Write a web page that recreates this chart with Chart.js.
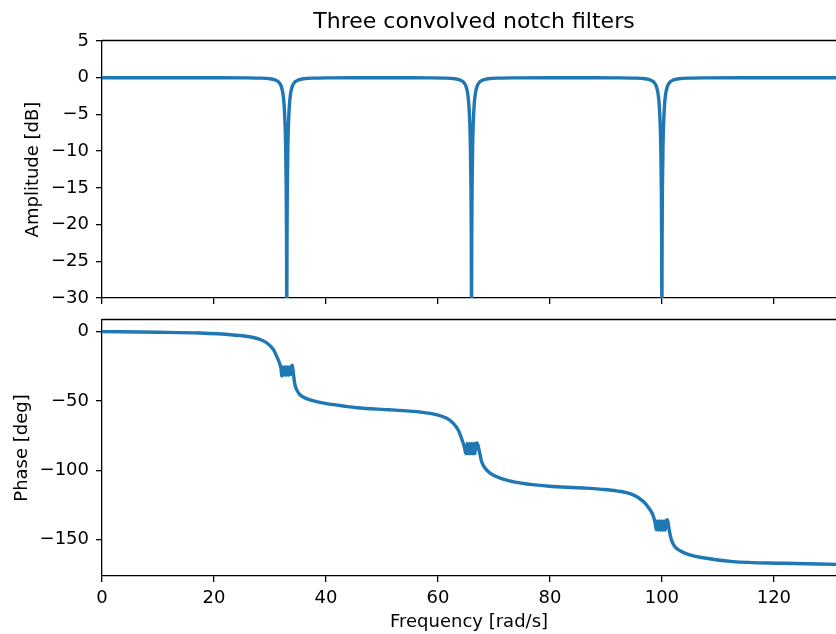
<!DOCTYPE html>
<html>
<head>
<meta charset="utf-8">
<script src="https://cdn.jsdelivr.net/npm/chart.js@4/dist/chart.umd.min.js"></script>
<style>
  html, body { margin: 0; padding: 0; background: #ffffff; }
  #wrap { position: relative; width: 836px; height: 634px; overflow: hidden; background: #fff; }
  canvas { position: absolute; left: 0; }
</style>
</head>
<body>
<div id="wrap">
  <canvas id="c1" width="836" height="320" style="top:0px"></canvas>
  <canvas id="c2" width="836" height="334" style="top:300px"></canvas>
</div>
<script>
// ---- data ----
const titleText = "Three convolved notch filters";
const xLabel = "Frequency [rad/s]";
const ampLabel = "Amplitude [dB]";
const phaseLabel = "Phase [deg]";

const xTicks = [0, 20, 40, 60, 80, 100, 120];
const ampTicks = [5, 0, -5, -10, -15, -20, -25, -30];
const phaseTicks = [0, -50, -100, -150];

const ampFreq = [0, 10, 20,
  25, 28, 30, 31, 31.5, 32, 32.3, 32.5, 32.7, 32.8, 32.9, 32.95, 32.98, 33, 33.02, 33.05, 33.1, 33.2, 33.3, 33.5, 33.7, 34, 34.5, 35, 36, 38, 41,
  45, 50, 55,
  58, 61, 63, 64, 64.5, 65, 65.3, 65.5, 65.7, 65.8, 65.9, 65.95, 65.98, 66, 66.02, 66.05, 66.1, 66.2, 66.3, 66.5, 66.7, 67, 67.5, 68, 69, 71, 74,
  80, 85,
  92, 95, 97, 98, 98.5, 99, 99.3, 99.5, 99.7, 99.8, 99.9, 99.95, 99.98, 100, 100.02, 100.05, 100.1, 100.2, 100.3, 100.5, 100.7, 101, 101.5, 102, 103, 105, 108,
  115, 125, 131.1];
const ampDb = [0, 0, -0.01,
  -0.02, -0.05, -0.14, -0.32, -0.55, -1.15, -2.09, -3.44, -6.39, -9.33, -14.95, -20.9, -28.8, -80, -28.8, -20.9, -14.95, -9.33, -6.39, -3.44, -2.09, -1.15, -0.55, -0.32, -0.14, -0.05, -0.02,
  -0.01, -0.01, -0.01,
  -0.02, -0.05, -0.14, -0.32, -0.55, -1.15, -2.09, -3.44, -6.39, -9.33, -14.95, -20.9, -28.8, -80, -28.8, -20.9, -14.95, -9.33, -6.39, -3.44, -2.09, -1.15, -0.55, -0.32, -0.14, -0.05, -0.02,
  -0.01, -0.01,
  -0.02, -0.05, -0.14, -0.32, -0.55, -1.15, -2.09, -3.44, -6.39, -9.33, -14.95, -20.9, -28.8, -80, -28.8, -20.9, -14.95, -9.33, -6.39, -3.44, -2.09, -1.15, -0.55, -0.32, -0.14, -0.05, -0.02,
  -0.01, 0, 0];

const phaseFreq = [0, 10, 17.5, 23.4, 26.4, 28.2, 29.4, 30.6, 31.2, 31.7,
  32.0, 32.1, 32.3, 32.5, 32.7, 32.9, 33.1, 33.3, 33.5, 33.7,
  33.9, 34.0, 34.17, 34.46, 34.76, 35.36, 36.55, 38.3, 40.1, 43.1,
  45.5, 51.4, 55.0, 56.8, 59.8, 61.5, 62.7, 63.6, 64.2, 64.7,
  65.0, 65.2, 65.4, 65.6, 65.8, 66.0, 66.2, 66.4, 66.6, 66.8,
  67.0, 67.4, 67.8, 68.4, 69.3, 71.1, 74.6, 80.6, 86.5, 88.9,
  91.9, 94.9, 96.7, 97.9, 98.5, 98.8, 99.0, 99.2, 99.4, 99.6,
  99.8, 100.0, 100.2, 100.4, 100.6, 100.8, 101.0, 101.3, 101.7, 102.3,
  103.5, 105.0, 106.8, 112.7, 121.7, 131.1];
const phaseDeg = [0, -0.4, -1.0, -2.4, -3.7, -5.6, -8.0, -12.8, -17.8, -22.6,
  -27.4, -32.0, -25.5, -31.5, -25.5, -31.5, -25.5, -31.5, -25.5, -31.0,
  -25.0, -24.2, -29.8, -38.2, -41.8, -45.5, -48.3, -50.4, -51.9, -53.6,
  -54.8, -56.3, -57.3, -57.9, -59.9, -62.3, -65.9, -70.7, -76.7, -82.8,
  -88.0, -80.5, -88.0, -80.5, -88.0, -80.5, -88.0, -80.5, -88.0, -80.5,
  -80.3, -86.3, -93.5, -98.3, -101.9, -105.5, -109.0, -111.6, -112.8, -113.5,
  -114.7, -117.6, -122.4, -128.4, -133.2, -138.0, -142.8, -136.5, -143.0, -136.5,
  -143.0, -136.5, -143.0, -136.5, -143.0, -136.5, -135.6, -142.8, -150.0, -154.9,
  -158.5, -160.9, -162.6, -165.7, -166.9, -167.7];

const xMin = 0, xMax = 131.1;
const ampMin = -30, ampMax = 5;
const phaseMin = -176.1, phaseMax = 8.4;

// ---- styling ----
const FONT = "'DejaVu Sans', 'Liberation Sans', sans-serif";
const LINE = '#1f77b4';
const fmt = v => String(v).replace('-', '\u2212');
const setTicks = arr => scale => { scale.ticks = arr.map(v => ({ value: v })); };

function axisBase(ticksArr) {
  return {
    type: 'linear',
    afterBuildTicks: setTicks(ticksArr),
    grid: { display: true, drawOnChartArea: false, drawTicks: true, tickLength: 6, color: '#000', lineWidth: 1.3 },
    border: { display: true, color: '#000', width: 1.3 },
    ticks: { color: '#000', font: { family: FONT, size: 18 }, padding: 6, maxRotation: 0, autoSkip: false, callback: v => fmt(v) }
  };
}

const topSpine = {
  id: 'topSpine',
  afterDraw(chart) {
    const { ctx, chartArea } = chart;
    ctx.save();
    ctx.strokeStyle = '#000';
    ctx.lineWidth = 1.3;
    ctx.beginPath();
    const y = Math.round(chartArea.top) - 0.5;
    ctx.moveTo(chartArea.left, y);
    ctx.lineTo(chartArea.right + 2, y);
    ctx.stroke();
    ctx.restore();
  }
};

const titlePlugin = {
  id: 'figTitle',
  afterDraw(chart) {
    const { ctx } = chart;
    ctx.save();
    ctx.fillStyle = '#000';
    ctx.font = "22px " + FONT;
    ctx.textAlign = 'center';
    ctx.textBaseline = 'middle';
    ctx.fillText(titleText, 474, 22);
    ctx.restore();
  }
};

const lineStyle = {
  borderColor: LINE, borderWidth: 3.4, pointRadius: 0, fill: false, clip: 0,
  cubicInterpolationMode: 'monotone', borderJoinStyle: 'round', borderCapStyle: 'butt'
};

// ---- top chart: amplitude ----
const xTop = axisBase(xTicks);
xTop.min = xMin; xTop.max = xMax;
xTop.ticks.display = false;
xTop.afterFit = s => { s.height = 22; };

const yTop = axisBase(ampTicks);
yTop.min = ampMin; yTop.max = ampMax;
yTop.ticks.padding = 7;
yTop.afterFit = s => { s.width = 102; };
yTop.title = { display: true, text: ampLabel, color: '#000', font: { family: FONT, size: 18 }, padding: { top: 23, bottom: 0 } };

new Chart(document.getElementById('c1'), {
  type: 'line',
  data: { datasets: [Object.assign({ data: ampFreq.map((f, i) => ({ x: f, y: ampDb[i] })) }, lineStyle)] },
  options: {
    responsive: false, animation: false, devicePixelRatio: 1,
    layout: { padding: { top: 41, right: 0, bottom: 0, left: 0 } },
    plugins: { legend: { display: false }, tooltip: { enabled: false }, title: { display: false } },
    scales: { x: xTop, y: yTop }
  },
  plugins: [topSpine, titlePlugin]
});

// ---- bottom chart: phase ----
const xBot = axisBase(xTicks);
xBot.min = xMin; xBot.max = xMax;
xBot.afterFit = s => { s.height = 58; };
xBot.title = { display: true, text: xLabel, color: '#000', font: { family: FONT, size: 18 }, padding: { top: 0, bottom: 1 } };

const yBot = axisBase(phaseTicks);
yBot.min = phaseMin; yBot.max = phaseMax;
yBot.ticks.padding = 7;
yBot.afterFit = s => { s.width = 102; };
yBot.title = { display: true, text: phaseLabel, color: '#000', font: { family: FONT, size: 18 }, padding: { top: 12, bottom: 0 } };

new Chart(document.getElementById('c2'), {
  type: 'line',
  data: { datasets: [Object.assign({ data: phaseFreq.map((f, i) => ({ x: f, y: phaseDeg[i] })) }, lineStyle)] },
  options: {
    responsive: false, animation: false, devicePixelRatio: 1,
    layout: { padding: { top: 20, right: 0, bottom: 0, left: 0 } },
    plugins: { legend: { display: false }, tooltip: { enabled: false }, title: { display: false } },
    scales: { x: xBot, y: yBot }
  },
  plugins: [topSpine]
});
</script>
</body>
</html>
